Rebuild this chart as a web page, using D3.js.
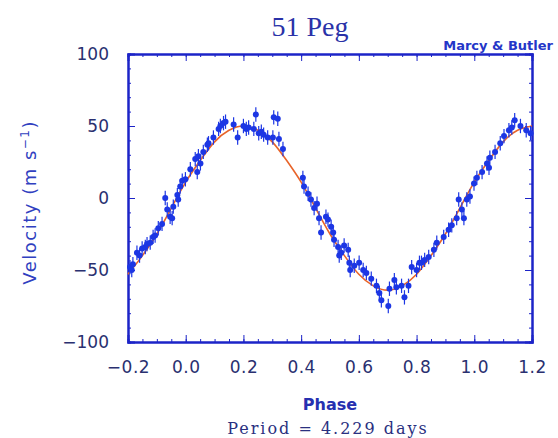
<!DOCTYPE html>
<html>
<head>
  <meta charset="utf-8">
  <script src="https://d3js.org/d3.v7.min.js"></script>
</head>

<style>

body {
  margin: 0;
  background: #fff;
}

.dot {
  fill: #1c36e4;
}

.err {
  stroke: #1c36e4;
  stroke-width: 1.2;
}

.fit {
  fill: none;
  stroke: #e8642a;
  stroke-width: 1.6;
}

.axis path, .axis line {
  stroke: #1c24c8;
}

.axis path {
  stroke-width: 2;
}

.axis text {
  fill: #2a3070;
  font-family: "DejaVu Sans", sans-serif;
  font-size: 17px;
}

</style>

<body>

<div id="chart"></div>

<script>
// 51 Peg radial velocity, folded on the orbital period

const phase = [
  -0.193, -0.187, -0.183, -0.169, -0.160, -0.151, -0.140, -0.134, -0.123, -0.113,
  -0.106, -0.095, -0.082, -0.071, -0.064, -0.054, -0.047, -0.043, -0.029, -0.026,
  -0.019, -0.012, -0.001, 0.016, 0.033, 0.040, 0.044, 0.051, 0.061, 0.075,
  0.079, 0.096, 0.114, 0.120, 0.131, 0.138, 0.166, 0.180, 0.200, 0.210,
  0.218, 0.236, 0.243, 0.253, 0.262, 0.270, 0.284, 0.302, 0.305, 0.319,
  0.323, 0.337, 0.406, 0.410, 0.424, 0.434, 0.445, 0.455, 0.462, 0.469,
  0.486, 0.493, 0.504, 0.511, 0.514, 0.528, 0.532, 0.539, 0.549, 0.563,
  0.567, 0.570, 0.584, 0.601, 0.615, 0.626, 0.643, 0.661, 0.671, 0.678,
  0.702, 0.706, 0.723, 0.730, 0.748, 0.758, 0.772, 0.783, 0.800, 0.810,
  0.817, 0.828, 0.842, 0.860, 0.870, 0.894, 0.911, 0.922, 0.939, 0.946,
  0.957, 0.964, 0.974, 0.985, 0.999, 1.009, 1.027, 1.044, 1.051, 1.054,
  1.072, 1.090, 1.103, 1.120, 1.130, 1.140, 1.160, 1.180, 1.195
];

const velocity = [
  -48, -50, -46, -38, -40, -35, -34, -32, -31, -27,
  -26, -21, -18, 0, -8, -13, -14, -6, 2, -1,
  8, 12, 13, 20, 27, 18, 29, 24, 32, 37,
  38, 42, 48, 50, 52, 53, 51, 42, 50, 48,
  49, 48, 58, 45, 46, 44, 42, 42, 56, 55,
  41, 34, 14, 8, 3, -1, -7, -4, -14, -24,
  -13, -15, -20, -24, -29, -34, -40, -38, -33, -36,
  -45, -50, -47, -45, -50, -52, -56, -61, -66, -71,
  -75, -63, -57, -62, -61, -69, -61, -48, -50, -45,
  -45, -43, -41, -36, -31, -27, -22, -19, -14, -1,
  -8, -14, -1, 1, 10, 14, 18, 24, 21, 28,
  32, 38, 43, 47, 49, 54, 50, 47, 45
];

const velErr = 5;

const fitPhase = [
  -0.20, -0.15, -0.10, -0.05, 0.00, 0.05, 0.10, 0.15, 0.20, 0.25,
  0.30, 0.35, 0.40, 0.45, 0.50, 0.55, 0.60, 0.65, 0.70, 0.75,
  0.80, 0.85, 0.90, 0.95, 1.00, 1.05, 1.10, 1.15, 1.20
];

const fitVelocity = [
  -53, -40, -25, -7, 11, 26, 39, 47, 50, 47,
  39, 26, 11, -7, -25, -40, -53, -61, -64, -61,
  -53, -40, -25, -7, 11, 26, 39, 47, 50
];

const xTicks = [-0.2, 0.0, 0.2, 0.4, 0.6, 0.8, 1.0, 1.2];
const yTicks = [-100, -50, 0, 50, 100];

const width = 558;
const height = 438;
const plot = {left: 128, right: 532, top: 54, bottom: 342};

var svg = d3.select("#chart")
  .append("svg")
    .attr("width", width)
    .attr("height", height)
    .style("font-family", "DejaVu Sans, sans-serif");

var xScale = d3.scaleLinear()
    .domain([-0.2, 1.2])
    .range([plot.left, plot.right]);

var yScale = d3.scaleLinear()
    .domain([-100, 100])
    .range([plot.bottom, plot.top]);

// minor ticks first, then major ticks with labels
var xMinor = d3.range(-0.2, 1.2001, 0.05);
var yMinor = d3.range(-100, 100.001, 10);

svg.append("g")
    .attr("class", "axis")
    .attr("transform", "translate(0," + plot.bottom + ")")
    .call(d3.axisBottom(xScale).tickValues(xMinor).tickSize(-3).tickFormat(""));

svg.append("g")
    .attr("class", "axis")
    .attr("transform", "translate(0," + plot.top + ")")
    .call(d3.axisTop(xScale).tickValues(xMinor).tickSize(-3).tickFormat(""));

svg.append("g")
    .attr("class", "axis")
    .attr("transform", "translate(" + plot.left + ",0)")
    .call(d3.axisLeft(yScale).tickValues(yMinor).tickSize(-3).tickFormat(""));

svg.append("g")
    .attr("class", "axis")
    .attr("transform", "translate(" + plot.right + ",0)")
    .call(d3.axisRight(yScale).tickValues(yMinor).tickSize(-3).tickFormat(""));

svg.append("g")
    .attr("class", "axis")
    .attr("transform", "translate(0," + plot.bottom + ")")
    .call(d3.axisBottom(xScale).tickValues(xTicks).tickSize(-7).tickPadding(28)
      .tickFormat(d3.format(".1f")))
    .selectAll("text")
      .attr("dy", "0.2em")
      .attr("letter-spacing", "0.5px");

svg.append("g")
    .attr("class", "axis")
    .attr("transform", "translate(0," + plot.top + ")")
    .call(d3.axisTop(xScale).tickValues(xTicks).tickSize(-7).tickFormat(""));

svg.append("g")
    .attr("class", "axis")
    .attr("transform", "translate(" + plot.left + ",0)")
    .call(d3.axisLeft(yScale).tickValues(yTicks).tickSize(-7).tickPadding(19)
      .tickFormat(d3.format("d")));

svg.append("g")
    .attr("class", "axis")
    .attr("transform", "translate(" + plot.right + ",0)")
    .call(d3.axisRight(yScale).tickValues(yTicks).tickSize(-7).tickFormat(""));

var points = phase.map(function(p, i) { return {p: p, v: velocity[i]}; });

var fitLine = d3.line()
    .x(function(d, i) { return xScale(fitPhase[i]); })
    .y(function(d) { return yScale(d); })
    .curve(d3.curveNatural);

svg.append("path")
    .datum(fitVelocity)
    .attr("class", "fit")
    .attr("d", fitLine);

svg.selectAll(".err")
    .data(points)
    .enter().append("line")
    .attr("class", "err")
    .attr("x1", function(d) { return xScale(d.p); })
    .attr("x2", function(d) { return xScale(d.p); })
    .attr("y1", function(d) { return yScale(d.v - velErr); })
    .attr("y2", function(d) { return yScale(d.v + velErr); });

svg.selectAll(".dot")
    .data(points)
    .enter().append("circle")
    .attr("class", "dot")
    .attr("cx", function(d) { return xScale(d.p); })
    .attr("cy", function(d) { return yScale(d.v); })
    .attr("r", 3);

// titles
svg.append("text")
    .attr("x", 310)
    .attr("y", 36)
    .attr("text-anchor", "middle")
    .attr("fill", "#2a32a8")
    .style("font-family", "Liberation Serif, serif")
    .style("font-size", "28px")
    .text("51 Peg");

svg.append("text")
    .attr("x", 553)
    .attr("y", 50)
    .attr("text-anchor", "end")
    .attr("fill", "#2436c8")
    .style("font-size", "13px")
    .style("font-weight", "bold")
    .text("Marcy & Butler");

svg.append("text")
    .attr("transform", "translate(36," + yScale(-3) + ") rotate(-90)")
    .attr("text-anchor", "middle")
    .attr("fill", "#3040c0")
    .style("font-size", "18px")
    .style("letter-spacing", "1.5px")
    .html("Velocity (m s<tspan dy='-7' font-size='12px'>\u22121</tspan><tspan dy='7'>)</tspan>");

svg.append("text")
    .attr("x", 330)
    .attr("y", 410)
    .attr("text-anchor", "middle")
    .attr("fill", "#2630b0")
    .style("font-size", "16px")
    .style("font-weight", "bold")
    .text("Phase");

svg.append("text")
    .attr("x", 328)
    .attr("y", 434)
    .attr("text-anchor", "middle")
    .attr("fill", "#2a3080")
    .style("font-family", "DejaVu Serif, serif")
    .style("font-size", "16px")
    .style("letter-spacing", "2px")
    .text("Period = 4.229 days");

</script>
</body>
</html>
